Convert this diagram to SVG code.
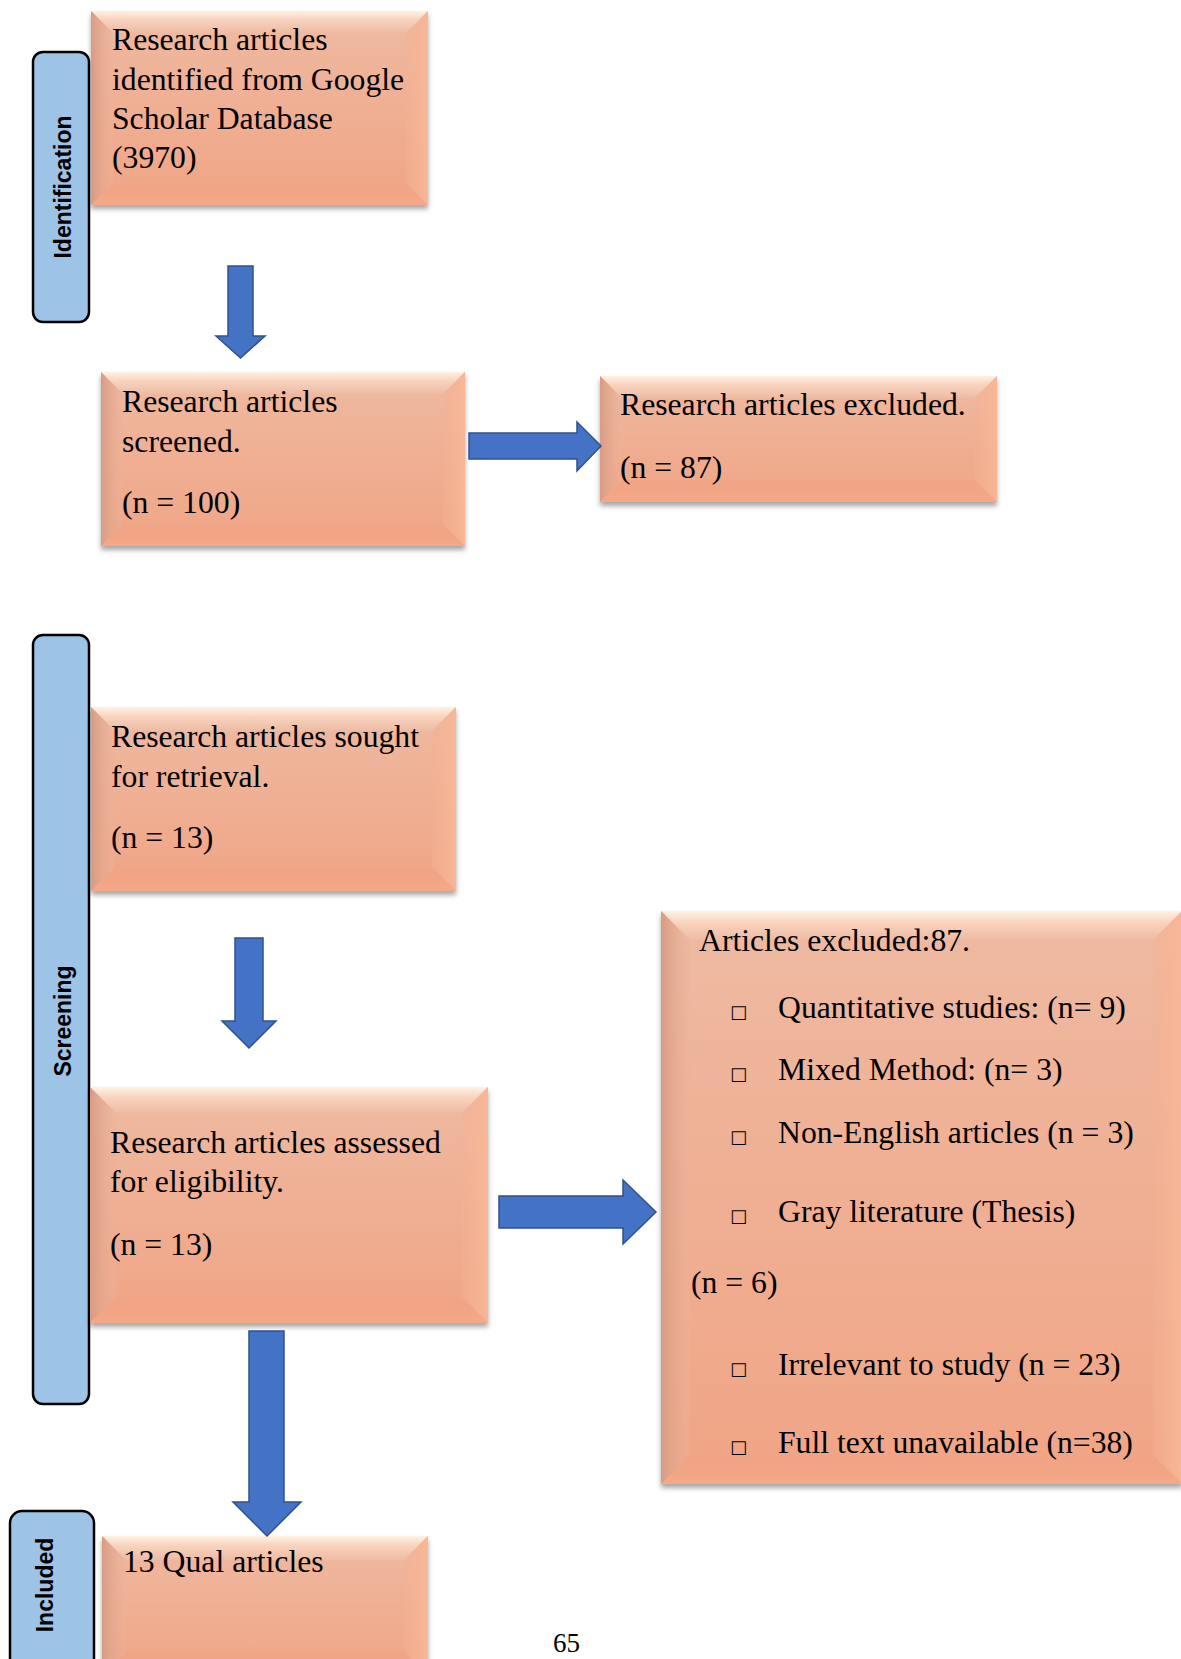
<svg xmlns="http://www.w3.org/2000/svg" width="1181" height="1659" viewBox="0 0 1181 1659">
<defs>
<linearGradient id="gFace" x1="0" y1="0" x2="0" y2="1">
<stop offset="0" stop-color="#eebaa2"/>
<stop offset="1" stop-color="#f1a485"/>
</linearGradient>
<linearGradient id="gTop" x1="0" y1="0" x2="0" y2="1">
<stop offset="0" stop-color="#fff2e2"/>
<stop offset="0.4" stop-color="#f8d3bf"/>
<stop offset="1" stop-color="#eebba3"/>
</linearGradient>
<linearGradient id="gLeft" x1="0" y1="0" x2="1" y2="0">
<stop offset="0" stop-color="#d89b83"/>
<stop offset="1" stop-color="#ebb49c" stop-opacity="0.3"/>
</linearGradient>
<linearGradient id="gRight" x1="0" y1="0" x2="1" y2="0">
<stop offset="0" stop-color="#f4b193" stop-opacity="0.4"/>
<stop offset="1" stop-color="#f8b797"/>
</linearGradient>
<linearGradient id="gBot" x1="0" y1="0" x2="0" y2="1">
<stop offset="0" stop-color="#f1a283" stop-opacity="0.3"/>
<stop offset="1" stop-color="#f5a987"/>
</linearGradient>
<filter id="shadow" x="-5%" y="-5%" width="110%" height="115%">
<feDropShadow dx="0" dy="4" stdDeviation="2.5" flood-color="#000" flood-opacity="0.35"/>
</filter>
</defs>
<style>
.face{fill:url(#gFace)}
.bt{fill:url(#gTop)}
.bl{fill:url(#gLeft)}
.br{fill:url(#gRight)}
.bb{fill:url(#gBot)}
.bx{filter:url(#shadow)}
.t{font-family:"Liberation Serif","Times New Roman",serif;font-size:31.7px;fill:#000}
.bul{font-family:"DejaVu Sans",sans-serif;font-size:18px;fill:#000}
.lab{fill:#9dc3e6;stroke:#000;stroke-width:2.5}
.lt{font-family:"Liberation Sans",Arial,sans-serif;font-weight:bold;font-size:23px;fill:#000;text-anchor:middle}
.arr{fill:#4472c4;stroke:#2f528f;stroke-width:1.5;stroke-linejoin:miter}
.pg{font-family:"Liberation Serif","Times New Roman",serif;font-size:27px;fill:#000}
</style>
<rect width="1181" height="1659" fill="#fff"/>

<g id="label-identification">
<rect class="lab" x="33" y="52" width="56" height="270" rx="10"/>
<text class="lt" transform="translate(71,187) rotate(-90)">Identification</text>
</g>
<g id="label-screening">
<rect class="lab" x="33" y="635" width="56" height="769" rx="10"/>
<text class="lt" transform="translate(71,1021) rotate(-90)">Screening</text>
</g>
<g id="label-included">
<rect class="lab" x="10" y="1511" width="84" height="170" rx="12"/>
<text class="lt" transform="translate(52.5,1585) rotate(-90)">Included</text>
</g>

<g id="node-identified">
<g class="bx">
<rect class="face" x="91" y="11" width="337" height="194"/>
<polygon class="bt" points="91,11 428,11 406,33 113,33"/>
<polygon class="bl" points="91,11 113,33 113,183 91,205"/>
<polygon class="br" points="428,11 406,33 406,183 428,205"/>
<polygon class="bb" points="91,205 428,205 406,183 113,183"/>
</g>
<text class="t" x="112" y="50">Research articles</text>
<text class="t" x="112" y="89.5">identified from Google</text>
<text class="t" x="112" y="129">Scholar Database</text>
<text class="t" x="112" y="168">(3970)</text>
</g>

<g id="node-screened">
<g class="bx">
<rect class="face" x="101" y="372" width="364" height="174"/>
<polygon class="bt" points="101,372 465,372 443,394 123,394"/>
<polygon class="bl" points="101,372 123,394 123,524 101,546"/>
<polygon class="br" points="465,372 443,394 443,524 465,546"/>
<polygon class="bb" points="101,546 465,546 443,524 123,524"/>
</g>
<text class="t" x="122" y="412">Research articles</text>
<text class="t" x="122" y="452">screened.</text>
<text class="t" x="122" y="513">(n = 100)</text>
</g>

<g id="node-excluded1">
<g class="bx">
<rect class="face" x="600" y="376" width="397" height="126"/>
<polygon class="bt" points="600,376 997,376 975,398 622,398"/>
<polygon class="bl" points="600,376 622,398 622,480 600,502"/>
<polygon class="br" points="997,376 975,398 975,480 997,502"/>
<polygon class="bb" points="600,502 997,502 975,480 622,480"/>
</g>
<text class="t" x="620" y="415">Research articles excluded.</text>
<text class="t" x="620" y="478">(n = 87)</text>
</g>

<g id="node-sought">
<g class="bx">
<rect class="face" x="91" y="707" width="365" height="184"/>
<polygon class="bt" points="91,707 456,707 432,731 115,731"/>
<polygon class="bl" points="91,707 115,731 115,867 91,891"/>
<polygon class="br" points="456,707 432,731 432,867 456,891"/>
<polygon class="bb" points="91,891 456,891 432,867 115,867"/>
</g>
<text class="t" x="111" y="747">Research articles sought</text>
<text class="t" x="111" y="787">for retrieval.</text>
<text class="t" x="111" y="848">(n = 13)</text>
</g>

<g id="node-assessed">
<g class="bx">
<rect class="face" x="90" y="1087" width="398" height="236"/>
<polygon class="bt" points="90,1087 488,1087 462,1113 116,1113"/>
<polygon class="bl" points="90,1087 116,1113 116,1297 90,1323"/>
<polygon class="br" points="488,1087 462,1113 462,1297 488,1323"/>
<polygon class="bb" points="90,1323 488,1323 462,1297 116,1297"/>
</g>
<text class="t" x="110" y="1153">Research articles assessed</text>
<text class="t" x="110" y="1192">for eligibility.</text>
<text class="t" x="110" y="1255">(n = 13)</text>
</g>

<g id="node-excluded2">
<g class="bx">
<rect class="face" x="661" y="911" width="521" height="573"/>
<polygon class="bt" points="661,911 1182,911 1153,940 690,940"/>
<polygon class="bl" points="661,911 690,940 690,1455 661,1484"/>
<polygon class="br" points="1182,911 1153,940 1153,1455 1182,1484"/>
<polygon class="bb" points="661,1484 1182,1484 1153,1455 690,1455"/>
</g>
<text class="t" x="699" y="951">Articles excluded:87.</text>
<text class="bul" x="730" y="1018">□</text>
<text class="t" x="778" y="1018">Quantitative studies: (n= 9)</text>
<text class="bul" x="730" y="1080">□</text>
<text class="t" x="778" y="1080">Mixed Method: (n= 3)</text>
<text class="bul" x="730" y="1143">□</text>
<text class="t" x="778" y="1143">Non-English articles (n = 3)</text>
<text class="bul" x="730" y="1222">□</text>
<text class="t" x="778" y="1222">Gray literature (Thesis)</text>
<text class="t" x="691" y="1293">(n = 6)</text>
<text class="bul" x="730" y="1375">□</text>
<text class="t" x="778" y="1375">Irrelevant to study (n = 23)</text>
<text class="bul" x="730" y="1453">□</text>
<text class="t" x="778" y="1453">Full text unavailable (n=38)</text>
</g>

<g id="node-included">
<g class="bx">
<rect class="face" x="102" y="1536" width="326" height="140"/>
<polygon class="bt" points="102,1536 428,1536 404,1560 126,1560"/>
<polygon class="bl" points="102,1536 126,1560 126,1652 102,1676"/>
<polygon class="br" points="428,1536 404,1560 404,1652 428,1676"/>
<polygon class="bb" points="102,1676 428,1676 404,1652 126,1652"/>
</g>
<text class="t" x="123" y="1572">13 Qual articles</text>
</g>

<g id="connectors">
<polygon class="arr" points="228,266 253,266 253,336 265,336 240.5,358 216,336 228,336"/>
<polygon class="arr" points="469,433 577,433 577,422 601,446 577,471 577,459 469,459"/>
<polygon class="arr" points="235,938 263,938 263,1021 276,1021 249,1048 222,1021 235,1021"/>
<polygon class="arr" points="499,1196 623,1196 623,1180 656,1212 623,1244 623,1228 499,1228"/>
<polygon class="arr" points="249,1331 284,1331 284,1502 301,1502 267,1536 233,1502 249,1502"/>
</g>

<text class="pg" x="553" y="1652">65</text>
</svg>
